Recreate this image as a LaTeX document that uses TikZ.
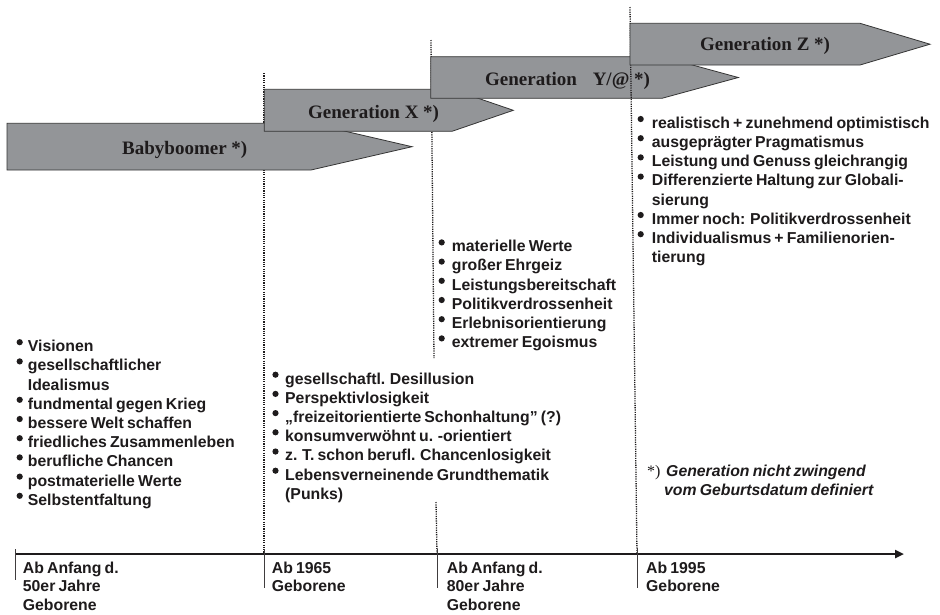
\documentclass[tikz,border=0pt]{standalone}
\usepackage{fontspec}
\setmainfont{Liberation Sans}[WordSpace=0.72]
\newfontfamily\tnr{Liberation Serif}
\usetikzlibrary{arrows.meta,calc}
\definecolor{ink}{HTML}{1E1B1C}
\definecolor{bandc}{HTML}{939598}
\definecolor{edge}{HTML}{353535}
\begin{document}
\begin{tikzpicture}[x=1pt,y=-1pt,
  txt/.style={anchor=base west,inner sep=0pt,text=ink,font=\fontsize{15.8}{18}\selectfont\bfseries},
  band/.style={fill=bandc,draw=edge,line width=0.8pt},
  lbl/.style={anchor=base west,inner sep=0pt,text=ink,font=\tnr\fontsize{19}{22}\selectfont\bfseries},
  guide/.style={draw=ink,line width=1.3pt,dash pattern=on 1.2pt off 1.1pt},
  tickmark/.style={draw=ink!85,line width=0.8pt}]
\useasboundingbox (0,0) rectangle (940,614);
\fill[white] (0,0) rectangle (940,614);

% guide lines behind the bands
\coordinate (g1t) at (264,73);  \coordinate (g1b) at (264,554);
\draw[guide] (g1t) -- (g1b);
\coordinate (g2t) at (431,40);  \coordinate (g2m) at (434,358);
\coordinate (g2n) at (436,502); \coordinate (g2b) at (437,554);
\draw[guide] (g2t) -- (g2m);
\draw[guide] (g2n) -- (g2b);

% bands
\draw[band] (7,123.3) -- (311,123.3) -- (412,146.7) -- (311,170) -- (7,170) -- cycle;
\node[lbl] (bbl) at (122,154) {Babyboomer *)};
\draw[band] (264.3,89.3) -- (452,89.3) -- (513.3,110.3) -- (452,131.3) -- (264.3,131.3) -- cycle;
\node[lbl] (gxl) at (308,118.3) {Generation X *)};
\draw[band] (430.7,56.7) -- (662,56.7) -- (738.3,77.5) -- (662,98.3) -- (430.7,98.3) -- cycle;
\node[lbl] (gyl) at (485,85) {Generation\hspace{11pt} Y/@ *)};
\coordinate (g3t) at (630,7); \coordinate (g3b) at (637,554);
\draw[guide] (g3t) -- (g3b);
\draw[band] (630,23.3) -- (860,23.3) -- (930,44.2) -- (860,65) -- (630,65) -- cycle;
\node[lbl] (gzl) at (700,50) {Generation Z *)};

% Babyboomer list
\foreach \b/\t [count=\i] in {1/Visionen,1/gesellschaftlicher,0/Idealismus,1/fundmental gegen Krieg,1/bessere Welt schaffen,1/friedliches Zusammenleben,1/berufliche Chancen,1/postmaterielle Werte,1/Selbstentfaltung}{
  \node[txt] (bb\i) at (27.7,{351.7+19.2*(\i-1)}) {\t};
  \ifnum\b=1\relax \fill[ink] ($(bb\i.base west)+(-8,-9.5)$) circle (3.1pt);\fi
}
% Generation X list
\foreach \b/\t [count=\i] in {1/gesellschaftl. Desillusion,1/Perspektivlosigkeit,1/„freizeitorientierte Schonhaltung” (?),1/konsumverwöhnt u. -orientiert,1/z. T. schon berufl. Chancenlosigkeit,1/Lebensverneinende Grundthematik,0/(Punks)}{
  \node[txt] (gx\i) at (285,{384+19.2*(\i-1)}) {\t};
  \ifnum\b=1\relax \fill[ink] ($(gx\i.base west)+(-9.5,-9.3)$) circle (3.1pt);\fi
}
% Generation Y list
\foreach \b/\t [count=\i] in {1/materielle Werte,1/großer Ehrgeiz,1/Leistungsbereitschaft,1/Politikverdrossenheit,1/Erlebnisorientierung,1/extremer Egoismus}{
  \node[txt] (gy\i) at (451.7,{251.7+19.2*(\i-1)}) {\t};
  \ifnum\b=1\relax \fill[ink] ($(gy\i.base west)+(-10,-9.3)$) circle (3.1pt);\fi
}
% Generation Z list
\foreach \b/\t [count=\i] in {1/realistisch + zunehmend optimistisch,1/ausgeprägter Pragmatismus,1/Leistung und Genuss gleichrangig,1/Differenzierte Haltung zur Globali-,0/sierung,1/Immer noch: Politikverdrossenheit,1/Individualismus + Familienorien-,0/tierung}{
  \node[txt] (gz\i) at (651.7,{128.3+19.2*(\i-1)}) {\t};
  \ifnum\b=1\relax \fill[ink] ($(gz\i.base west)+(-11,-9.3)$) circle (3.1pt);\fi
}

% footnote
\node[anchor=base west,inner sep=0pt,text=ink,font=\tnr\fontsize{16}{18}\selectfont] (fs) at (647,476) {*)};
\node[txt,font=\fontsize{15.8}{18}\selectfont\bfseries\itshape] (fn1) at (666,476) {Generation nicht zwingend};
\node[txt,font=\fontsize{15.8}{18}\selectfont\bfseries\itshape] (fn2) at (664,495.7) {vom Geburtsdatum definiert};

% time axis
\coordinate (a0) at (15,554); \coordinate (a1) at (904,554);
\draw[ink,line width=2.4pt,-{Triangle[length=9pt,width=8pt]}] (a0) -- (a1);
\coordinate (t1a) at (15,549);  \coordinate (t1b) at (15,580);
\coordinate (t2a) at (264,549); \coordinate (t2b) at (264,588);
\coordinate (t3a) at (437,549); \coordinate (t3b) at (437,588);
\coordinate (t4a) at (637,548); \coordinate (t4b) at (637,588);
\draw[tickmark] (t1a) -- (t1b);
\draw[tickmark] (t2a) -- (t2b);
\draw[tickmark] (t3a) -- (t3b);
\draw[tickmark] (t4a) -- (t4b);

\foreach \t [count=\i] in {Ab Anfang d.,50er Jahre,Geborene}
  \node[txt] (l1\i) at (22.7,{573+18.5*(\i-1)}) {\t};
\foreach \t [count=\i] in {Ab 1965,Geborene}
  \node[txt] (l2\i) at (271.7,{573+18.5*(\i-1)}) {\t};
\foreach \t [count=\i] in {Ab Anfang d.,80er Jahre,Geborene}
  \node[txt] (l3\i) at (446.7,{573+18.5*(\i-1)}) {\t};
\foreach \t [count=\i] in {Ab 1995,Geborene}
  \node[txt] (l4\i) at (646,{573+18.5*(\i-1)}) {\t};
\end{tikzpicture}
\end{document}
